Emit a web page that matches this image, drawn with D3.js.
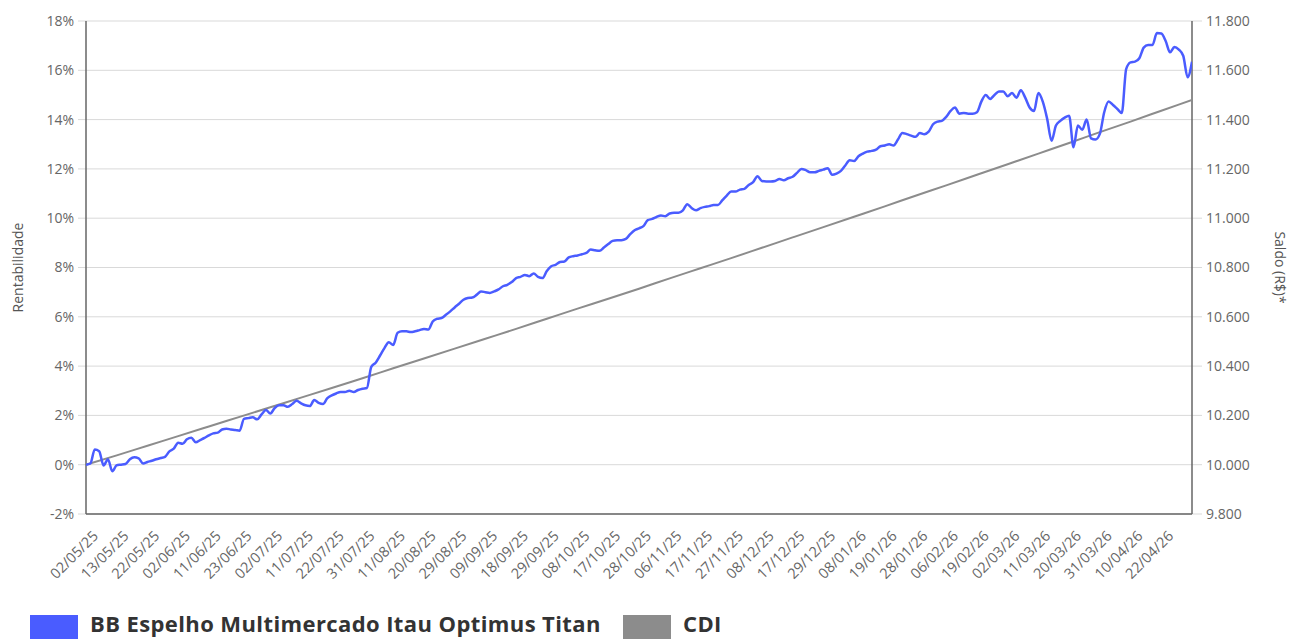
<!DOCTYPE html>
<html>
<head>
<meta charset="utf-8">
<script src="https://cdn.jsdelivr.net/npm/d3@7"></script>
<style>
  html, body { margin: 0; padding: 0; background: #fff; }
  svg { display: block; font-family: "Open Sans", "Noto Sans", sans-serif; }
</style>
</head>
<body>
<svg id="chart" width="1289" height="639"></svg>
<script>
// ---------- DATA ----------
const seriesNames = ["BB Espelho Multimercado Itau Optimus Titan", "CDI"];

// Fund cumulative return (%) per business day, index 0 = 02/05/25
const fundValues = [
  0, 0.05, 0.62, 0.55, -0.03, 0.22, -0.27, -0.02, 0, 0.03,
  0.22, 0.30, 0.26, 0.05, 0.11, 0.16, 0.22, 0.27, 0.32, 0.54,
  0.65, 0.89, 0.85, 1.03, 1.09, 0.91, 1.00, 1.09, 1.19, 1.27,
  1.30, 1.43, 1.46, 1.43, 1.41, 1.38, 1.86, 1.89, 1.92, 1.84,
  2.04, 2.22, 2.08, 2.30, 2.41, 2.41, 2.35, 2.46, 2.59, 2.49,
  2.41, 2.38, 2.62, 2.51, 2.46, 2.70, 2.81, 2.89, 2.95, 2.95,
  3.00, 2.95, 3.03, 3.08, 3.11, 3.97, 4.14, 4.43, 4.73, 4.97,
  4.86, 5.35, 5.41, 5.41, 5.38, 5.41, 5.46, 5.51, 5.48, 5.81,
  5.92, 5.95, 6.08, 6.22, 6.38, 6.53, 6.69, 6.76, 6.78, 6.89,
  7.03, 7.00, 6.97, 7.03, 7.11, 7.24, 7.30, 7.41, 7.57, 7.62,
  7.70, 7.65, 7.76, 7.62, 7.57, 7.86, 8.05, 8.11, 8.22, 8.24,
  8.41, 8.46, 8.49, 8.54, 8.59, 8.73, 8.70, 8.68, 8.81, 8.95,
  9.08, 9.11, 9.11, 9.16, 9.35, 9.51, 9.59, 9.68, 9.92, 9.97,
  10.05, 10.11, 10.08, 10.19, 10.22, 10.22, 10.32, 10.57, 10.41, 10.32,
  10.41, 10.46, 10.49, 10.54, 10.54, 10.73, 10.92, 11.08, 11.08, 11.16,
  11.19, 11.35, 11.46, 11.70, 11.51, 11.49, 11.49, 11.51, 11.59, 11.54,
  11.62, 11.68, 11.84, 12.00, 11.95, 11.86, 11.86, 11.92, 11.97, 12.03,
  11.76, 11.81, 11.92, 12.14, 12.35, 12.32, 12.51, 12.62, 12.70, 12.73,
  12.78, 12.92, 12.95, 13.00, 12.95, 13.19, 13.46, 13.41, 13.35, 13.30,
  13.46, 13.41, 13.51, 13.81, 13.92, 13.95, 14.11, 14.35, 14.49, 14.24,
  14.27, 14.24, 14.24, 14.30, 14.73, 15.00, 14.84, 15.00, 15.14, 15.14,
  14.95, 15.08, 14.89, 15.19, 14.89, 14.49, 14.35, 15.08, 14.73, 14.03,
  13.14, 13.76, 13.95, 14.08, 14.16, 12.88, 13.76, 13.59, 14.00, 13.24,
  13.19, 13.42, 14.30, 14.73, 14.59, 14.43, 14.27, 16.05, 16.32, 16.35,
  16.49, 16.92, 17.03, 17.03, 17.51, 17.49, 17.19, 16.73, 16.95, 16.84,
  16.59, 15.72, 16.35
];

// CDI cumulative return (%) sampled every 7 business days (index) + last day
const cdiIndex = [0, 7, 14, 21, 28, 35, 42, 49, 56, 63, 70, 77, 84, 91, 98, 105, 112, 119, 126,
  133, 140, 147, 154, 161, 168, 175, 182, 189, 196, 203, 210, 217, 224, 231, 238, 245, 252];
const cdiValues = [0, 0.38, 0.77, 1.16, 1.55, 1.94, 2.33, 2.72, 3.11, 3.51, 3.91, 4.31, 4.71, 5.11, 5.51,
  5.92, 6.33, 6.73, 7.14, 7.56, 7.97, 8.38, 8.80, 9.22, 9.64, 10.06, 10.48, 10.91, 11.33, 11.76,
  12.19, 12.62, 13.05, 13.49, 13.92, 14.36, 14.80];

// X tick labels, one every 7 business days starting at index 0
const xTickLabels = ["02/05/25", "13/05/25", "22/05/25", "02/06/25", "11/06/25", "23/06/25",
  "02/07/25", "11/07/25", "22/07/25", "31/07/25", "11/08/25", "20/08/25", "29/08/25",
  "09/09/25", "18/09/25", "29/09/25", "08/10/25", "17/10/25", "28/10/25", "06/11/25",
  "17/11/25", "27/11/25", "08/12/25", "17/12/25", "29/12/25", "08/01/26", "19/01/26",
  "28/01/26", "06/02/26", "19/02/26", "02/03/26", "11/03/26", "20/03/26", "31/03/26",
  "10/04/26", "22/04/26"];
const xTickStep = 7;

const yLeftTicks = [-2, 0, 2, 4, 6, 8, 10, 12, 14, 16, 18];
const yRightTicks = [9800, 10000, 10200, 10400, 10600, 10800, 11000, 11200, 11400, 11600, 11800];
const leftTitle = "Rentabilidade";
const rightTitle = "Saldo (R$)*";

// ---------- LAYOUT ----------
const svg = d3.select("#chart");
const L = 86, R = 1192, T = 21, B = 514;
const colors = { fund: "#4a5cff", cdi: "#8c8c8c", grid: "#d9d9d9", axis: "#666", text: "#666" };

const x = d3.scaleLinear().domain([0, fundValues.length - 1]).range([L, R]);
const yL = d3.scaleLinear().domain([-2, 18]).range([B, T]);
const yR = d3.scaleLinear().domain([9800, 11800]).range([B, T]);

// gridlines + left tick marks
svg.append("g").selectAll("line").data(yLeftTicks).join("line")
  .attr("x1", L - 8).attr("x2", R).attr("y1", d => yL(d)).attr("y2", d => yL(d))
  .attr("stroke", colors.grid).attr("stroke-width", 1);
// right tick marks
svg.append("g").selectAll("line").data(yRightTicks).join("line")
  .attr("x1", R).attr("x2", R + 10).attr("y1", d => yR(d)).attr("y2", d => yR(d))
  .attr("stroke", colors.grid).attr("stroke-width", 1);

// left axis labels
const leftAxis = d3.axisLeft(yL).tickValues(yLeftTicks).tickSize(0).tickPadding(12)
  .tickFormat(d => d + "%");
const gLeft = svg.append("g").attr("transform", `translate(${L},0)`).call(leftAxis);
gLeft.select(".domain").remove();
gLeft.selectAll("text").attr("fill", colors.text).style("font-size", "14px")
  .style("font-family", "'Open Sans', sans-serif");

const fmtR = d => d3.format(",.0f")(d).replace(/,/g, ".");
const rightAxis = d3.axisRight(yR).tickValues(yRightTicks).tickSize(0).tickPadding(14)
  .tickFormat(fmtR);
const gRight = svg.append("g").attr("transform", `translate(${R},0)`).call(rightAxis);
gRight.select(".domain").remove();
gRight.selectAll("text").attr("fill", colors.text).style("font-size", "14px")
  .style("font-family", "'Open Sans', sans-serif");

// axis lines
svg.append("line").attr("x1", L).attr("x2", L).attr("y1", T).attr("y2", B)
  .attr("stroke", colors.axis).attr("stroke-width", 1.5);
svg.append("line").attr("x1", R).attr("x2", R).attr("y1", T).attr("y2", B)
  .attr("stroke", colors.axis).attr("stroke-width", 1.5);
svg.append("line").attr("x1", L).attr("x2", R).attr("y1", B).attr("y2", B)
  .attr("stroke", colors.axis).attr("stroke-width", 1.5);

// x labels
const xTicks = xTickLabels.map((lab, k) => ({ i: k * xTickStep, lab }));
svg.append("g").selectAll("text").data(xTicks).join("text")
  .attr("transform", d => `translate(${x(d.i) + 13},${B + 23}) rotate(-45)`)
  .attr("text-anchor", "end")
  .attr("fill", colors.text)
  .style("font-size", "14.5px")
  .text(d => d.lab);

// axis titles
svg.append("text").attr("transform", `translate(22.5,${(T + B) / 2}) rotate(-90)`)
  .attr("text-anchor", "middle").attr("fill", "#555").style("font-size", "14px").text(leftTitle);
svg.append("text").attr("transform", `translate(1275,${(T + B) / 2}) rotate(90)`)
  .attr("text-anchor", "middle").attr("fill", "#555").style("font-size", "14px").text(rightTitle);

// lines
svg.append("clipPath").attr("id", "clip").append("rect")
  .attr("x", L).attr("y", T - 10).attr("width", R - L).attr("height", B - T + 10);

const cdiLine = d3.line().x((d, k) => x(cdiIndex[k])).y(d => yL(d)).curve(d3.curveMonotoneX);
svg.append("path").datum(cdiValues).attr("d", cdiLine)
  .attr("fill", "none").attr("stroke", colors.cdi).attr("stroke-width", 2)
  .attr("clip-path", "url(#clip)");

const fundLine = d3.line().x((d, k) => x(k)).y(d => yL(d)).curve(d3.curveMonotoneX);
svg.append("path").datum(fundValues).attr("d", fundLine)
  .attr("fill", "none").attr("stroke", colors.fund).attr("stroke-width", 2.5)
  .attr("stroke-linejoin", "round").attr("clip-path", "url(#clip)");

// legend
const legend = [
  { name: seriesNames[0], color: colors.fund, x: 30 },
  { name: seriesNames[1], color: colors.cdi, x: 623 }
];
const lg = svg.append("g");
lg.selectAll("rect").data(legend).join("rect")
  .attr("x", d => d.x).attr("y", 615).attr("width", 48).attr("height", 26)
  .attr("fill", d => d.color);
lg.selectAll("text").data(legend).join("text")
  .attr("x", d => d.x + 60).attr("y", 632)
  .attr("fill", "#333").style("font-size", "22px").style("font-weight", "700")
  .style("letter-spacing", "0.4px")
  .text(d => d.name);
</script>
</body>
</html>
